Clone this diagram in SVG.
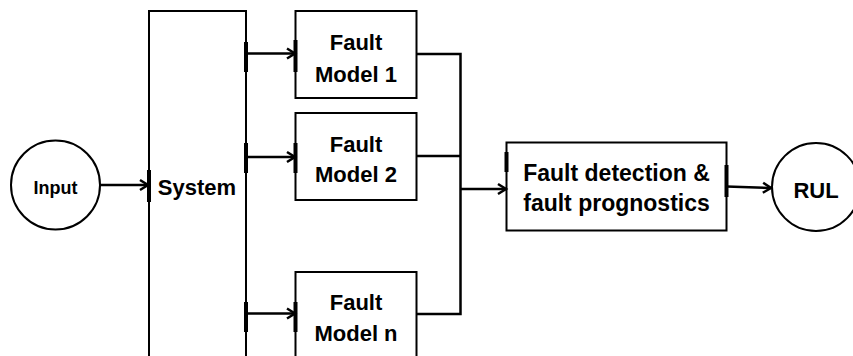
<svg xmlns="http://www.w3.org/2000/svg" width="853" height="356" viewBox="0 0 853 356">
<defs>
<marker id="arr" markerUnits="userSpaceOnUse" markerWidth="12" markerHeight="14" refX="9" refY="6" orient="auto" viewBox="0 0 12 12">
<path d="M1,1 L9,6 L1,11" fill="none" stroke="#000" stroke-width="2.5" stroke-linejoin="miter"/>
</marker>
<style>
.box{fill:#fff;stroke:#000;stroke-width:2}
.t{font-family:"Liberation Sans",Arial,sans-serif;font-weight:bold;fill:#000;text-anchor:middle}
.c{fill:none;stroke:#000;stroke-width:2.5}
.tick{stroke:#000;stroke-width:4}
</style>
</defs>
<rect width="853" height="356" fill="#fff"/>
<g id="input">
<circle class="box" cx="55.5" cy="185" r="44.5"/>
<text class="t" x="55.5" y="193.5" font-size="18">Input</text>
</g>
<g id="system">
<rect class="box" x="149" y="11" width="97" height="360"/>
<text class="t" x="197" y="195" font-size="22">System</text>
<line class="tick" x1="149" y1="170" x2="149" y2="202"/>
<line class="tick" x1="246" y1="42" x2="246" y2="72"/>
<line class="tick" x1="246" y1="143" x2="246" y2="173"/>
<line class="tick" x1="246" y1="302" x2="246" y2="332"/>
</g>
<g id="fm1">
<rect class="box" x="295.5" y="11" width="121" height="87"/>
<text class="t" x="356" y="50" font-size="22">Fault</text>
<text class="t" x="356" y="81.5" font-size="22">Model 1</text>
<line class="tick" x1="295.5" y1="40" x2="295.5" y2="72"/>
</g>
<g id="fm2">
<rect class="box" x="295.5" y="113" width="121" height="87"/>
<text class="t" x="356" y="151.5" font-size="22">Fault</text>
<text class="t" x="356" y="181.5" font-size="22">Model 2</text>
<line class="tick" x1="295.5" y1="143" x2="295.5" y2="173"/>
</g>
<g id="fmn">
<rect class="box" x="295.5" y="272" width="121" height="100"/>
<text class="t" x="356" y="310" font-size="22">Fault</text>
<text class="t" x="356" y="340.5" font-size="22">Model n</text>
<line class="tick" x1="295.5" y1="302" x2="295.5" y2="332"/>
</g>
<g id="fd">
<rect class="box" x="506.5" y="142.5" width="220" height="88"/>
<text class="t" x="616.5" y="181" font-size="23">Fault detection &amp;</text>
<text class="t" x="616.5" y="211" font-size="23">fault prognostics</text>
<line class="tick" x1="506.5" y1="152" x2="506.5" y2="172"/>
<line class="tick" x1="726.5" y1="165" x2="726.5" y2="197"/>
</g>
<g id="rul">
<circle class="box" cx="816" cy="187" r="44"/>
<text class="t" x="816" y="198" font-size="22">RUL</text>
</g>
<g id="connectors">
<line class="c" x1="100" y1="185" x2="148" y2="185" marker-end="url(#arr)"/>
<line class="c" x1="246" y1="53.5" x2="295" y2="53.5" marker-end="url(#arr)"/>
<line class="c" x1="246" y1="157" x2="295" y2="157" marker-end="url(#arr)"/>
<line class="c" x1="246" y1="313.5" x2="295" y2="313.5" marker-end="url(#arr)"/>
<polyline class="c" points="416.5,54 460.5,54 460.5,314 416.5,314"/>
<line class="c" x1="416.5" y1="156" x2="460.5" y2="156"/>
<line class="c" x1="460.5" y1="189" x2="506" y2="189" stroke-width="3.5" marker-end="url(#arr)"/>
<line class="c" x1="726.5" y1="186.5" x2="771" y2="188" marker-end="url(#arr)"/>
</g>
</svg>
